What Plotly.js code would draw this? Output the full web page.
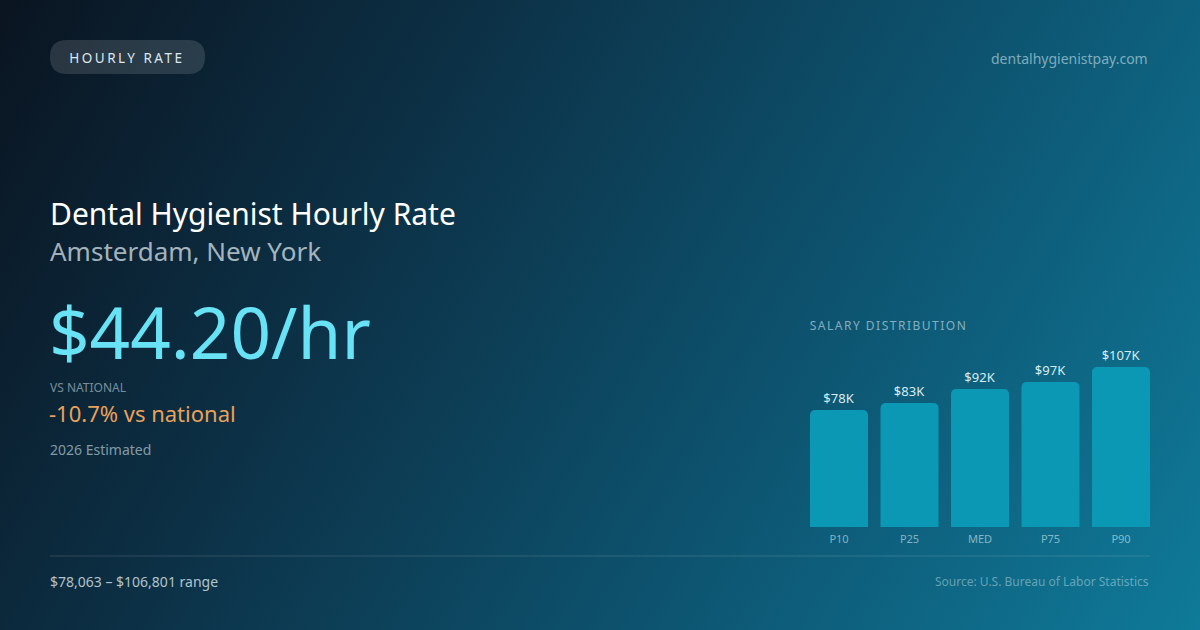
<!DOCTYPE html>
<html>
<head>
<meta charset="utf-8">
<script src="https://cdn.plot.ly/plotly-3.0.1.min.js"></script>
<style>
  html, body { margin: 0; padding: 0; width: 1200px; height: 630px; overflow: hidden; }
  #chart {
    width: 1200px; height: 630px;
    background: linear-gradient(120deg, #0a1420 0%, #0c2f44 30%, #0d5470 65%, #0f7a99 100%);
  }
</style>
</head>
<body>
<div id="chart"></div>
<script>
// ---- data ----
const percentiles = ['P10', 'P25', 'MED', 'P75', 'P90'];
const salariesK = [78.063, 82.8, 92.1, 96.8, 106.801];
const headline = 'Dental Hygienist Hourly Rate';
const cityName = 'Amsterdam, New York';
const hourlyRate = '$44.20/hr';
const vsNationalLabel = 'VS NATIONAL';
const vsNational = '-10.7% vs national';
const estimateNote = '2026 Estimated';
const badge = 'HOURLY RATE';
const site = 'dentalhygienistpay.com';
const distTitle = 'SALARY DISTRIBUTION';
const rangeText = '$78,063 – $106,801 range';
const sourceText = 'Source: U.S. Bureau of Labor Statistics';

// ---- helpers (pixel -> paper) ----
const W = 1200, H = 630;
const px = x => x / W;
const py = y => 1 - y / H;
const FONT = 'Noto Sans, Open Sans, sans-serif';

function ann(text, x, y, size, color, xanchor) {
  return {
    text: text, xref: 'paper', yref: 'paper', x: px(x), y: py(y),
    xanchor: xanchor || 'left', yanchor: 'middle', showarrow: false,
    font: { family: FONT, size: size, color: color }
  };
}

const trace = {
  type: 'bar',
  x: percentiles,
  y: salariesK,
  marker: { color: '#0b98b5', cornerradius: 5 },
  texttemplate: '$%{y:.0f}K',
  textposition: 'outside',
  textfont: { family: FONT, size: 13, color: '#d6ecf2' },
  cliponaxis: false,
  hoverinfo: 'skip'
};

const layout = {
  width: W, height: H,
  margin: { l: 0, r: 0, t: 0, b: 0 },
  paper_bgcolor: 'rgba(0,0,0,0)',
  plot_bgcolor: 'rgba(0,0,0,0)',
  showlegend: false,
  bargap: 0.177,
  xaxis: {
    domain: [px(803.75), px(1156.25)],
    showgrid: false, zeroline: false, showline: false, ticks: '',
    tickfont: { family: FONT, size: 11, color: 'rgba(215,235,242,0.6)' },
    ticklabelstandoff: 4,
    fixedrange: true
  },
  yaxis: {
    domain: [py(527), py(367)],
    range: [0, 106.801],
    visible: false,
    fixedrange: true
  },
  shapes: [
    { type: 'path', xref: 'paper', yref: 'paper',
      path: (function () {
        const x0 = 50, x1 = 205, y0 = 40, y1 = 74, r = 17;
        const P = (x, y) => px(x) + ',' + py(y);
        return 'M ' + P(x0 + r, y0) + ' L ' + P(x1 - r, y0) +
          ' Q ' + P(x1, y0) + ' ' + P(x1, y0 + r) +
          ' Q ' + P(x1, y1) + ' ' + P(x1 - r, y1) +
          ' L ' + P(x0 + r, y1) +
          ' Q ' + P(x0, y1) + ' ' + P(x0, y1 - r) +
          ' Q ' + P(x0, y0) + ' ' + P(x0 + r, y0) + ' Z';
      })(),
      fillcolor: 'rgba(255,255,255,0.13)', line: { width: 0 }, layer: 'below' },
    { type: 'line', xref: 'paper', yref: 'paper',
      x0: px(50), x1: px(1150), y0: py(556), y1: py(556),
      line: { color: 'rgba(255,255,255,0.14)', width: 1 } }
  ],
  annotations: [
    ann(badge, 126.5, 57.5, 13.5, '#dde7ee', 'center'),
    ann(site, 1150, 58, 14, 'rgba(205,228,238,0.6)', 'right'),
    ann(headline, 48, 213, 30, '#ffffff'),
    ann(cityName, 48, 251, 26, 'rgba(225,235,240,0.72)'),
    ann(hourlyRate, 47, 331, 71, '#67e3f5'),
    ann(vsNationalLabel, 48, 387, 12, 'rgba(215,230,238,0.55)'),
    ann(vsNational, 47, 413, 22, '#eaa15a'),
    ann(estimateNote, 48, 449, 14, 'rgba(215,230,238,0.6)'),
    ann(distTitle, 888.5, 325, 12, 'rgba(215,232,240,0.6)', 'center'),
    ann(rangeText, 48, 581, 14, 'rgba(225,238,244,0.78)'),
    ann(sourceText, 1151, 581, 12, 'rgba(215,232,240,0.45)', 'right')
  ]
};

Plotly.newPlot('chart', [trace], layout, { staticPlot: true, displayModeBar: false }).then(function () {
  const spacing = {};
  spacing[badge] = '2.5px';
  spacing[distTitle] = '1.5px';
  document.querySelectorAll('.annotation-text').forEach(function (t) {
    if (spacing[t.textContent]) t.style.letterSpacing = spacing[t.textContent];
  });
});
</script>
</body>
</html>
